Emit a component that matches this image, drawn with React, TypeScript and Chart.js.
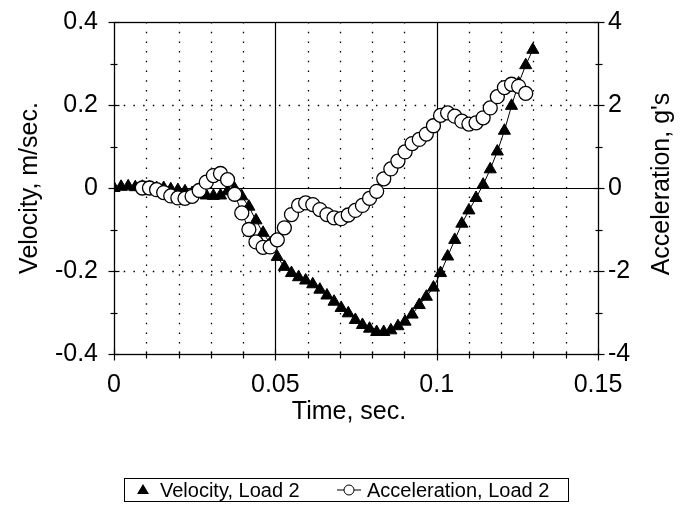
import React, { useEffect, useRef } from "react";
import { Chart, registerables } from "chart.js";

Chart.register(...registerables);

// ---- data ----
const time = [
  0, 0.0022, 0.0044, 0.0066, 0.0088, 0.011, 0.0132, 0.0154, 0.0176, 0.0198,
  0.022, 0.0242, 0.0264, 0.0286, 0.0308, 0.033, 0.0352, 0.0374, 0.0396, 0.0418,
  0.044, 0.0462, 0.0484, 0.0506, 0.0528, 0.055, 0.0572, 0.0594, 0.0616, 0.0638,
  0.066, 0.0682, 0.0704, 0.0726, 0.0748, 0.077, 0.0792, 0.0814, 0.0836, 0.0858,
  0.088, 0.0902, 0.0924, 0.0946, 0.0968, 0.099, 0.1012, 0.1034, 0.1056, 0.1078,
  0.11, 0.1122, 0.1144, 0.1166, 0.1188, 0.121, 0.1232, 0.1254, 0.1276, 0.1298,
];

const velocity = [
  0, 0.003, 0.004, 0.002, 0.003, 0.002, 0, 0, -0.003, -0.005,
  -0.008, -0.012, -0.014, -0.018, -0.019, -0.018, -0.008, -0.002, -0.02, -0.045,
  -0.078, -0.108, -0.133, -0.166, -0.19, -0.205, -0.215, -0.223, -0.232, -0.245,
  -0.259, -0.274, -0.289, -0.302, -0.318, -0.33, -0.339, -0.347, -0.347, -0.343,
  -0.333, -0.322, -0.305, -0.282, -0.262, -0.24, -0.205, -0.165, -0.125, -0.086,
  -0.054, -0.024, 0.008, 0.045, 0.088, 0.138, 0.198, 0.252, 0.296, 0.333,
];

const acceleration = [
  null, null, null, null, 0.0, 0.0, -0.04, -0.11, -0.19, -0.24,
  -0.25, -0.2, -0.06, 0.14, 0.3, 0.35, 0.2, -0.15, -0.6, -1.0,
  -1.3, -1.43, -1.42, -1.25, -0.96, -0.64, -0.42, -0.36, -0.4, -0.52,
  -0.64, -0.72, -0.74, -0.65, -0.54, -0.42, -0.25, -0.08, 0.22, 0.46,
  0.65, 0.87, 1.07, 1.17, 1.3, 1.5, 1.75, 1.81, 1.73, 1.61,
  1.54, 1.57, 1.69, 1.93, 2.2, 2.42, 2.5, 2.45, 2.28, null,
];

const xTicks = [0, 0.05, 0.1, 0.15];
const velocityTicks = [-0.4, -0.2, 0, 0.2, 0.4];
const accelTicks = [-4, -2, 0, 2, 4];
const xDottedGrid = [0.01, 0.02, 0.03, 0.04, 0.06, 0.07, 0.08, 0.09, 0.11, 0.12, 0.13, 0.14];
const xSolidGrid = [0.05, 0.1];
const yDottedGrid = [-0.2, 0.2];
const ySolidGrid = [0];
const xMinorTicks = [0.01, 0.02, 0.03, 0.04, 0.06, 0.07, 0.08, 0.09, 0.11, 0.12, 0.13, 0.14];
const yMinorTicks = [-0.3, -0.1, 0.1, 0.3];
const y2MinorTicks = [-3, -1, 1, 3];

const xTitle = "Time, sec.";
const yTitle = "Velocity, m/sec.";
const y2Title = "Acceleration, g's";
const velocityLabel = "Velocity, Load 2";
const accelLabel = "Acceleration, Load 2";

const FONT = "'Liberation Sans', Arial, Helvetica, sans-serif";
const TICK_SIZE = 25;
const TITLE_SIZE = 25;
const LEGEND_SIZE = 20;

const fmt = (v: number) => String(parseFloat(v.toFixed(3)));

const decorPlugin = {
  id: "decor",
  beforeDatasetsDraw(chart: any) {
    const { ctx, chartArea: a, scales } = chart;
    const x = scales.x;
    const y = scales.y;
    const line = (x1: number, y1: number, x2: number, y2: number) => {
      ctx.beginPath();
      ctx.moveTo(x1, y1);
      ctx.lineTo(x2, y2);
      ctx.stroke();
    };
    ctx.save();
    ctx.strokeStyle = "#000";
    ctx.lineWidth = 1.3;
    ctx.setLineDash([1.5, 8.2]);
    for (const v of xDottedGrid) {
      const px = Math.round(x.getPixelForValue(v)) + 0.5;
      line(px, a.top, px, a.bottom);
    }
    for (const v of yDottedGrid) {
      const py = Math.round(y.getPixelForValue(v)) + 0.5;
      line(a.left, py, a.right, py);
    }
    ctx.setLineDash([]);
    ctx.lineWidth = 1.2;
    for (const v of xSolidGrid) {
      const px = Math.round(x.getPixelForValue(v)) + 0.5;
      line(px, a.top, px, a.bottom);
    }
    for (const v of ySolidGrid) {
      const py = Math.round(y.getPixelForValue(v)) + 0.5;
      line(a.left, py, a.right, py);
    }
    ctx.lineWidth = 1.3;
    ctx.strokeRect(Math.round(a.left) + 0.5, Math.round(a.top) + 0.5, Math.round(a.right - a.left), Math.round(a.bottom - a.top));
    ctx.restore();
  },
  afterDraw(chart: any) {
    const { ctx, chartArea: a, scales } = chart;
    const x = scales.x;
    const y = scales.y;
    const y2 = scales.y2;
    const line = (x1: number, y1: number, x2: number, y2v: number) => {
      ctx.beginPath();
      ctx.moveTo(x1, y1);
      ctx.lineTo(x2, y2v);
      ctx.stroke();
    };
    ctx.save();
    ctx.strokeStyle = "#000";
    ctx.lineWidth = 1.2;
    const L = Math.round(a.left) + 0.5;
    const R = Math.round(a.right) + 0.5;
    const B = Math.round(a.bottom) + 0.5;
    for (const v of xTicks) {
      const px = Math.round(x.getPixelForValue(v)) + 0.5;
      line(px, B - 5, px, B + 6);
    }
    for (const v of xMinorTicks) {
      const px = Math.round(x.getPixelForValue(v)) + 0.5;
      line(px, B - 3, px, B + 4);
    }
    for (const v of velocityTicks) {
      const py = Math.round(y.getPixelForValue(v)) + 0.5;
      line(L - 6, py, L + 5, py);
    }
    for (const v of yMinorTicks) {
      const py = Math.round(y.getPixelForValue(v)) + 0.5;
      line(L - 4, py, L + 3, py);
    }
    for (const v of accelTicks) {
      const py = Math.round(y2.getPixelForValue(v)) + 0.5;
      line(R - 5, py, R + 6, py);
    }
    for (const v of y2MinorTicks) {
      const py = Math.round(y2.getPixelForValue(v)) + 0.5;
      line(R - 3, py, R + 4, py);
    }

    // titles
    ctx.fillStyle = "#000";
    ctx.font = `${TITLE_SIZE}px ${FONT}`;
    ctx.textAlign = "center";
    ctx.textBaseline = "middle";
    ctx.fillText(xTitle, (a.left + a.right) / 2 - 7, 404);
    ctx.save();
    ctx.translate(22, (a.top + a.bottom) / 2);
    ctx.rotate(-Math.PI / 2);
    ctx.fillText(yTitle, 0, 0);
    ctx.restore();
    ctx.save();
    ctx.translate(654, (a.top + a.bottom) / 2 - 4);
    ctx.rotate(-Math.PI / 2);
    ctx.fillText(y2Title, 0, 0);
    ctx.restore();

    // legend
    const lx = 116.5, ly = 470.5, lw = 444, lh = 23;
    ctx.lineWidth = 1;
    ctx.strokeRect(lx, ly, lw, lh);
    const cy = ly + lh / 2;
    ctx.beginPath();
    ctx.moveTo(135, cy - 6);
    ctx.lineTo(141, cy + 4);
    ctx.lineTo(129, cy + 4);
    ctx.closePath();
    ctx.fill();
    ctx.font = `${LEGEND_SIZE}px ${FONT}`;
    ctx.textAlign = "left";
    ctx.fillText(velocityLabel, 152, cy + 1);
    ctx.lineWidth = 1;
    line(329, cy, 353, cy);
    ctx.beginPath();
    ctx.arc(341, cy, 5, 0, Math.PI * 2);
    ctx.fillStyle = "#fff";
    ctx.fill();
    ctx.stroke();
    ctx.fillStyle = "#000";
    ctx.fillText(accelLabel, 359, cy + 1);
    ctx.restore();
  },
};

export default function App() {
  const ref = useRef<HTMLCanvasElement | null>(null);
  useEffect(() => {
    if (!ref.current) return;
    const tickFont = { family: FONT, size: TICK_SIZE };
    const chart = new Chart(ref.current, {
      type: "line",
      data: {
        datasets: [
          {
            label: accelLabel,
            data: time.map((t, i) => ({ x: t, y: acceleration[i] })),
            yAxisID: "y2",
            borderColor: "#000",
            borderWidth: 1,
            pointStyle: "circle",
            pointRadius: 7,
            pointBackgroundColor: "#fff",
            pointBorderColor: "#000",
            pointBorderWidth: 1.3,
            showLine: true,
            spanGaps: false,
            tension: 0,
            order: 0,
          },
          {
            label: velocityLabel,
            data: time.map((t, i) => ({ x: t, y: velocity[i] })),
            yAxisID: "y",
            borderColor: "#000",
            borderWidth: 1,
            pointStyle: "triangle",
            pointRadius: 7,
            pointBackgroundColor: "#000",
            pointBorderColor: "#000",
            pointBorderWidth: 1,
            showLine: true,
            tension: 0,
            order: 1,
          },
        ],
      },
      options: {
        responsive: false,
        animation: false,
        devicePixelRatio: 1,
        layout: { padding: { top: 14, left: 0, right: 0, bottom: 0 } },
        plugins: { legend: { display: false }, tooltip: { enabled: false } },
        scales: {
          x: {
            type: "linear",
            min: 0,
            max: 0.15,
            afterBuildTicks: (s: any) => {
              s.ticks = xTicks.map((v) => ({ value: v }));
            },
            afterFit: (s: any) => {
              s.height = 156;
              s.paddingLeft = 0;
              s.paddingRight = 0;
            },
            ticks: { font: tickFont, color: "#000", padding: 16, maxRotation: 0, callback: (v: any) => fmt(Number(v)) },
            grid: { display: true, drawOnChartArea: false, drawTicks: false },
            border: { display: false },
          },
          y: {
            type: "linear",
            position: "left",
            min: -0.4,
            max: 0.4,
            afterBuildTicks: (s: any) => {
              s.ticks = velocityTicks.map((v) => ({ value: v }));
            },
            afterFit: (s: any) => {
              s.width = 106;
              s.paddingTop = 0;
              s.paddingBottom = 0;
            },
            ticks: { font: tickFont, color: "#000", padding: 16, callback: (v: any) => fmt(Number(v)) },
            grid: { display: true, drawOnChartArea: false, drawTicks: false },
            border: { display: false },
          },
          y2: {
            type: "linear",
            position: "right",
            min: -4,
            max: 4,
            afterBuildTicks: (s: any) => {
              s.ticks = accelTicks.map((v) => ({ value: v }));
            },
            afterFit: (s: any) => {
              s.width = 84;
              s.paddingTop = 0;
              s.paddingBottom = 0;
            },
            ticks: { font: tickFont, color: "#000", padding: 10, callback: (v: any) => fmt(Number(v)) },
            grid: { display: true, drawOnChartArea: false, drawTicks: false },
            border: { display: false },
          },
        },
      },
      plugins: [decorPlugin],
    } as any);
    return () => chart.destroy();
  }, []);
  return (
    <div style={{ width: 674, height: 502, position: "relative" }}>
      <canvas ref={ref} width={674} height={502} style={{ display: "block" }} />
    </div>
  );
}
